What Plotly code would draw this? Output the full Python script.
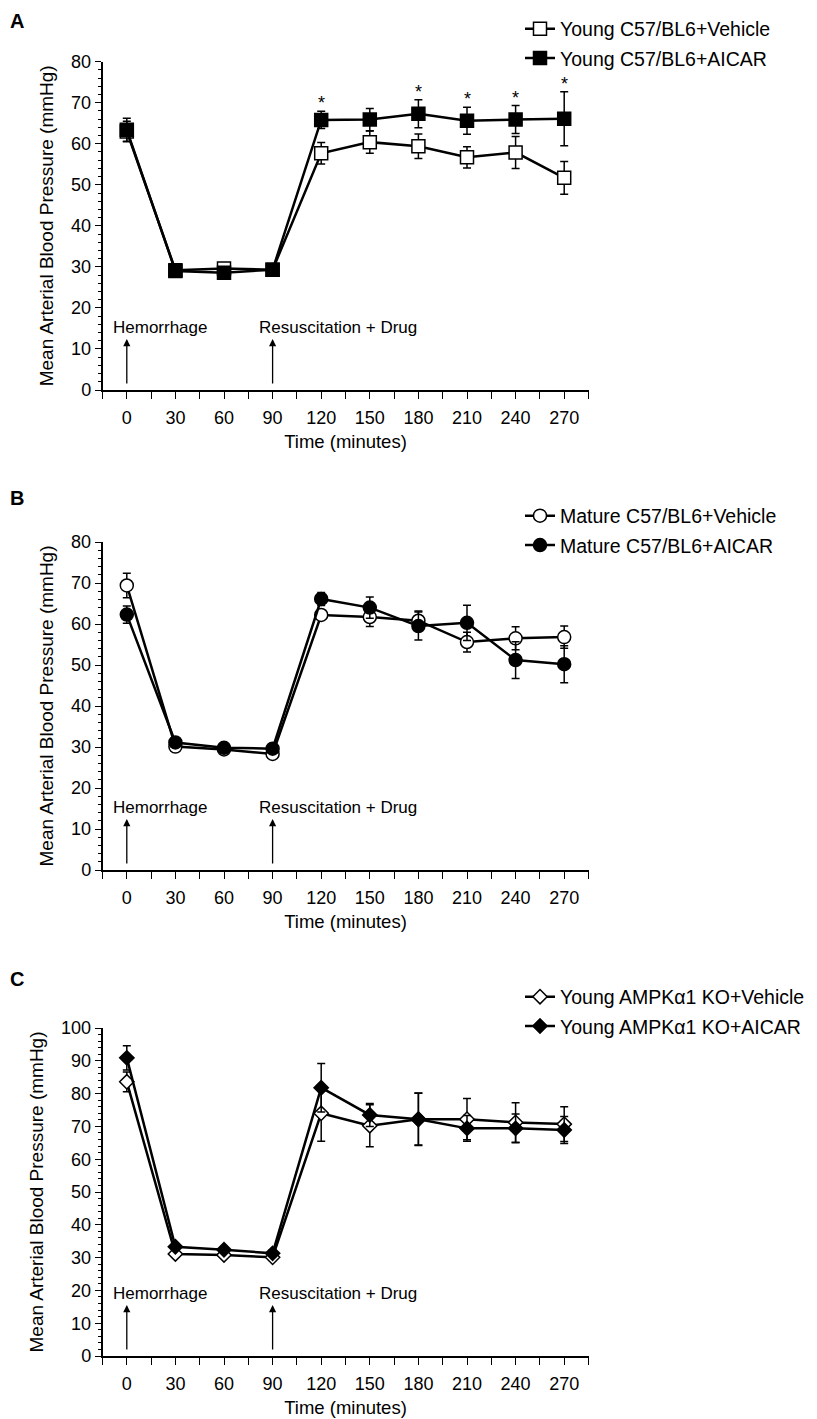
import plotly.graph_objects as go

# ---------------- data ----------------
time_min = [0, 30, 60, 90, 120, 150, 180, 210, 240, 270]
x_tick_vals = [-15, 0, 15, 30, 45, 60, 75, 90, 105, 120, 135, 150, 165, 180, 195, 210, 225, 240, 255, 270, 285]
x_tick_text = ["", "0", "", "30", "", "60", "", "90", "", "120", "", "150", "", "180", "", "210", "", "240", "", "270", ""]

# Panel A
a_veh_name = "Young C57/BL6+Vehicle"
a_veh_mean = [63.0, 29.2, 29.6, 29.3, 57.7, 60.4, 59.4, 56.7, 57.9, 51.7]
a_veh_err = [2.5, 0.8, 0.8, 0.8, 2.6, 2.7, 3.0, 2.6, 3.9, 4.0]
a_aic_name = "Young C57/BL6+AICAR"
a_aic_mean = [63.4, 29.0, 28.6, 29.3, 65.8, 65.9, 67.3, 65.6, 65.9, 66.1]
a_aic_err = [2.8, 0.8, 0.8, 0.8, 2.1, 2.7, 3.4, 3.3, 3.4, 6.6]
a_sig_times = [120, 180, 210, 240, 270]

# Panel B
b_veh_name = "Mature C57/BL6+Vehicle"
b_veh_mean = [69.4, 30.1, 29.4, 28.3, 62.2, 61.7, 60.8, 55.6, 56.5, 56.8]
b_veh_err = [3.0, 0.8, 0.8, 0.8, 1.0, 2.3, 2.4, 2.4, 2.8, 2.7]
b_aic_name = "Mature C57/BL6+AICAR"
b_aic_mean = [62.3, 31.1, 29.8, 29.6, 66.1, 64.0, 59.5, 60.3, 51.2, 50.2]
b_aic_err = [2.1, 0.8, 0.8, 0.8, 1.6, 2.6, 3.4, 4.3, 4.5, 4.5]
b_sig_times = []

# Panel C
c_veh_name = "Young AMPK\u03b11 KO+Vehicle"
c_veh_mean = [83.6, 31.1, 30.8, 30.1, 74.0, 70.2, 72.2, 72.2, 71.2, 70.7]
c_veh_err = [3.0, 1.0, 1.0, 1.0, 8.5, 6.4, 8.0, 6.3, 6.0, 5.3]
c_aic_name = "Young AMPK\u03b11 KO+AICAR"
c_aic_mean = [90.9, 33.3, 32.4, 31.3, 81.8, 73.5, 72.2, 69.4, 69.4, 68.9]
c_aic_err = [3.7, 1.0, 1.0, 1.0, 7.4, 3.5, 7.9, 3.9, 4.4, 4.1]
c_sig_times = []

event_times = [0, 90]
event_labels = ["Hemorrhage", "Resuscitation + Drug"]
panel_letters = ["A", "B", "C"]
y_max = [80, 80, 100]

# ---------------- layout helpers ----------------
W, H = 817, 1419
FONT = "Liberation Sans, Arial, Helvetica, sans-serif"

# page placement compensation (the page body adds an 8px offset)
SX, SY = 8.0, 8.0


def fx(rx):
    return rx - SX


def fy(ry):
    return ry - SY


x_dom = [fx(102.5) / W, fx(588.5) / W]
plot_px = [(61.7, 390.0), (542.0, 870.0), (1028.0, 1356.0)]   # target top/bottom
legend_row1_px = [30, 517, 998]
letter_px = [15, 499, 980]

panels = [
    dict(veh=(a_veh_name, a_veh_mean, a_veh_err), aic=(a_aic_name, a_aic_mean, a_aic_err),
         sig=a_sig_times, sym="square", size=13),
    dict(veh=(b_veh_name, b_veh_mean, b_veh_err), aic=(b_aic_name, b_aic_mean, b_aic_err),
         sig=b_sig_times, sym="circle", size=13),
    dict(veh=(c_veh_name, c_veh_mean, c_veh_err), aic=(c_aic_name, c_aic_mean, c_aic_err),
         sig=c_sig_times, sym="diamond", size=11),
]

fig = go.Figure()
annotations = []
layout_axes = {}

for i, p in enumerate(panels):
    sfx = "" if i == 0 else str(i + 1)
    xa, ya = "x" + sfx, "y" + sfx
    leg = "legend" + sfx
    for key, fill in (("veh", "white"), ("aic", "black")):
        name, mean, err = p[key]
        fig.add_trace(go.Scatter(
            x=time_min, y=mean, name=name, mode="lines+markers",
            xaxis=xa, yaxis=ya, legend=leg, legendgroup=name,
            line=dict(color="black", width=2.5),
            marker=dict(symbol=p["sym"], size=p["size"], color=fill,
                        line=dict(color="black", width=1.5)),
            error_y=dict(type="data", array=err, visible=True, color="black",
                         thickness=1.5, width=4),
        ))
    name, mean, err = p["aic"]
    for t in p["sig"]:
        k = time_min.index(t)
        annotations.append(dict(x=t, y=mean[k] + err[k], xref=xa, yref=ya, text="*",
                                showarrow=False, yanchor="bottom", yshift=-4,
                                font=dict(size=18, color="black", family=FONT)))
    top, bot = plot_px[i]
    ftop, fbot = fy(top), fy(bot)
    hpx = fbot - ftop
    for t, lab in zip(event_times, event_labels):
        annotations.append(dict(x=t, y=51 / hpx, xref=xa, yref=ya + " domain", text="",
                                showarrow=True, ax=0, ay=46, axref="pixel", ayref="pixel",
                                arrowhead=2, arrowsize=1.1, arrowwidth=1.3, arrowcolor="black"))
        annotations.append(dict(x=t, y=63 / hpx, xref=xa, yref=ya + " domain", text=lab,
                                showarrow=False, xanchor="left", yanchor="middle", xshift=-16,
                                font=dict(size=17, color="black", family=FONT)))
    ly = max(0.0, fy(letter_px[i]) - 14)
    annotations.append(dict(x=0, y=1 - ly / H, xref="paper", yref="paper",
                            text="<b>%s</b>" % panel_letters[i], showarrow=False,
                            xanchor="left", yanchor="top",
                            font=dict(size=20, color="black", family=FONT)))

    layout_axes["xaxis" + sfx] = dict(
        domain=x_dom, anchor=ya, range=[-15, 285], tickmode="array",
        tickvals=x_tick_vals, ticktext=x_tick_text, ticks="outside", ticklen=7,
        tickwidth=1.3, tickcolor="black", showline=True, linecolor="black", linewidth=1.5,
        showgrid=False, zeroline=False, ticklabelstandoff=4,
        tickfont=dict(size=18, color="black", family=FONT),
        title=dict(text="Time (minutes)", standoff=8,
                   font=dict(size=18.5, color="black", family=FONT)),
    )
    layout_axes["yaxis" + sfx] = dict(
        domain=[1 - fbot / H, 1 - ftop / H], anchor=xa, range=[0, y_max[i]],
        tickmode="linear", tick0=0, dtick=10, ticks="outside", ticklen=6, tickwidth=1.3,
        tickcolor="black", showline=True, linecolor="black", linewidth=1.5,
        showgrid=False, zeroline=False,
        minor=dict(dtick=2, ticks="outside", ticklen=3, tickwidth=1, tickcolor="black"),
        tickfont=dict(size=18, color="black", family=FONT),
        title=dict(text="Mean Arterial Blood Pressure (mmHg)", standoff=12,
                   font=dict(size=19, color="black", family=FONT)),
    )
    ltop = max(0.0, fy(legend_row1_px[i]) - 20.5)
    layout_axes[leg] = dict(
        x=fx(520) / W, y=1 - ltop / H, xanchor="left", yanchor="top",
        bgcolor="rgba(0,0,0,0)", font=dict(size=19.5, color="black", family=FONT),
        itemwidth=30, tracegroupgap=1,
    )

fig.update_layout(
    width=W, height=H, margin=dict(l=0, r=0, t=0, b=0, autoexpand=False),
    paper_bgcolor="white", plot_bgcolor="white",
    font=dict(family=FONT, color="black"),
    annotations=annotations, showlegend=True,
    **layout_axes,
)

fig.write_html("out.html")
